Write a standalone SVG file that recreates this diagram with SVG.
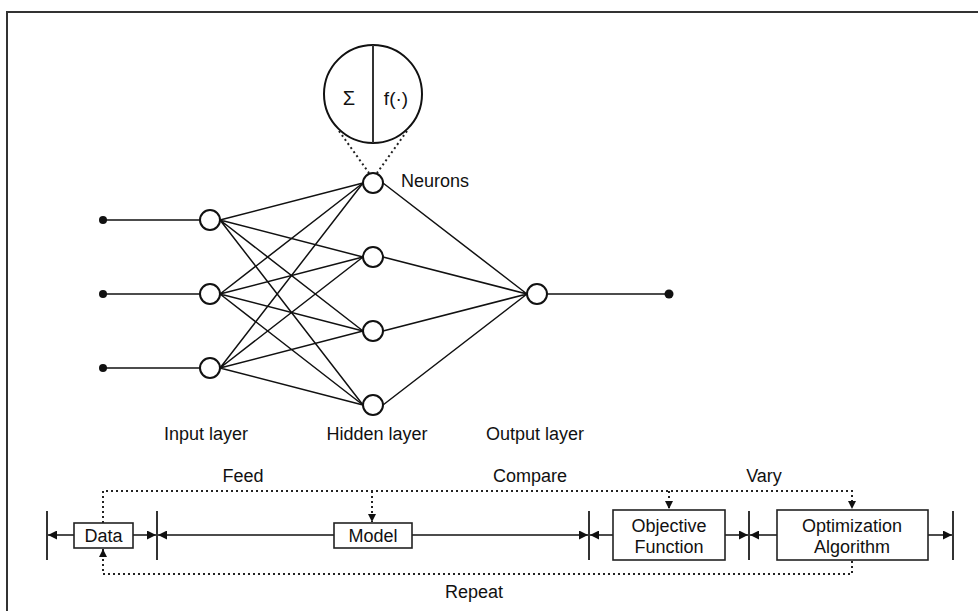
<svg xmlns="http://www.w3.org/2000/svg" width="978" height="611" viewBox="0 0 978 611">
<defs>
<style>
text{font-family:"Liberation Sans",Arial,sans-serif;font-size:18px;fill:#111;text-anchor:middle}
.ln{stroke:#111;stroke-width:1.5;fill:none}
.dot{stroke:#222;stroke-width:2;fill:none;stroke-dasharray:2 3}
.nd{fill:#fff;stroke:#111;stroke-width:2}
.box{fill:#fff;stroke:#222;stroke-width:1.6}
.bar{stroke:#333;stroke-width:2}
</style>
<marker id="ah" viewBox="0 0 10 10" refX="10" refY="5" markerWidth="9" markerHeight="9" markerUnits="userSpaceOnUse" orient="auto"><path d="M0,0L10,5L0,10z" fill="#111"/></marker>
<marker id="ahs" viewBox="0 0 10 10" refX="10" refY="5" markerWidth="8" markerHeight="8" markerUnits="userSpaceOnUse" orient="auto"><path d="M0,0L10,5L0,10z" fill="#111"/></marker>
</defs>
<rect width="978" height="611" fill="#fff"/>
<path d="M7,611V12H978" stroke="#333" stroke-width="2" fill="none"/>

<g id="connectors">
<line class="ln" x1="103" y1="220" x2="200" y2="220"/>
<line class="ln" x1="103" y1="294" x2="200" y2="294"/>
<line class="ln" x1="103" y1="368" x2="200" y2="368"/>
<circle cx="103" cy="220" r="4" fill="#111"/>
<circle cx="103" cy="294" r="4" fill="#111"/>
<circle cx="103" cy="368" r="4" fill="#111"/>
<g class="ln">
<path d="M220,220L363,183M220,220L363,257M220,220L363,331M220,220L363,405"/>
<path d="M220,294L363,183M220,294L363,257M220,294L363,331M220,294L363,405"/>
<path d="M220,368L363,183M220,368L363,257M220,368L363,331M220,368L363,405"/>
<path d="M383,183L527,294M383,257L527,294M383,331L527,294M383,405L527,294"/>
<path d="M547,294H669"/>
</g>
<circle cx="669" cy="294" r="4.5" fill="#111"/>
<path class="dot" d="M339,131L369,173M407,131L377,173"/>

<line class="bar" x1="47" y1="511" x2="47" y2="560"/>
<line class="bar" x1="157" y1="511" x2="157" y2="560"/>
<line class="bar" x1="589" y1="511" x2="589" y2="560"/>
<line class="bar" x1="749" y1="511" x2="749" y2="560"/>
<line class="bar" x1="953" y1="511" x2="953" y2="560"/>
<line class="ln" x1="74" y1="535" x2="48" y2="535" marker-end="url(#ah)"/>
<line class="ln" x1="133" y1="535" x2="156" y2="535" marker-end="url(#ah)"/>
<line class="ln" x1="334" y1="535" x2="158" y2="535" marker-end="url(#ah)"/>
<line class="ln" x1="412" y1="535" x2="588" y2="535" marker-end="url(#ah)"/>
<line class="ln" x1="613" y1="535" x2="590" y2="535" marker-end="url(#ah)"/>
<line class="ln" x1="725" y1="535" x2="748" y2="535" marker-end="url(#ah)"/>
<line class="ln" x1="777" y1="535" x2="750" y2="535" marker-end="url(#ah)"/>
<line class="ln" x1="928" y1="535" x2="952" y2="535" marker-end="url(#ah)"/>
<path class="dot" d="M103,523V491H852V509" marker-end="url(#ahs)"/>
<path class="dot" d="M372,491V522" marker-end="url(#ahs)"/>
<path class="dot" d="M669,491V509" marker-end="url(#ahs)"/>
<path class="dot" d="M852,561V574H103V549" marker-end="url(#ahs)"/>
</g>

<g id="zoom-neuron">
<circle cx="373" cy="94" r="49" fill="#fff" stroke="#111" stroke-width="2"/>
<line x1="373" y1="45" x2="373" y2="143" stroke="#333" stroke-width="2"/>
<text x="349" y="105" style="font-size:20px">Σ</text>
<text x="396" y="105" style="font-size:19px">f(·)</text>
</g>

<g id="input-layer">
<circle class="nd" cx="210" cy="220" r="10"/>
<circle class="nd" cx="210" cy="294" r="10"/>
<circle class="nd" cx="210" cy="368" r="10"/>
<text x="206" y="440">Input layer</text>
</g>
<g id="hidden-layer">
<circle class="nd" cx="373" cy="183" r="10"/>
<circle class="nd" cx="373" cy="257" r="10"/>
<circle class="nd" cx="373" cy="331" r="10"/>
<circle class="nd" cx="373" cy="405" r="10"/>
<text x="377" y="440">Hidden layer</text>
<text x="435" y="187">Neurons</text>
</g>
<g id="output-layer">
<circle class="nd" cx="537" cy="294" r="10"/>
<text x="535" y="440">Output layer</text>
</g>

<g id="data"><rect class="box" x="74" y="523" width="59" height="25"/><text x="103.5" y="542">Data</text></g>
<g id="model"><rect class="box" x="334" y="523" width="78" height="25"/><text x="373" y="542">Model</text></g>
<g id="objective"><rect class="box" x="613" y="510" width="112" height="50"/><text x="669" y="532">Objective</text><text x="669" y="553">Function</text></g>
<g id="optimization"><rect class="box" x="777" y="510" width="151" height="50"/><text x="852" y="532">Optimization</text><text x="852" y="553">Algorithm</text></g>

<g id="labels">
<text x="243" y="482">Feed</text>
<text x="530" y="482">Compare</text>
<text x="764" y="482">Vary</text>
<text x="474" y="598">Repeat</text>
</g>
</svg>
